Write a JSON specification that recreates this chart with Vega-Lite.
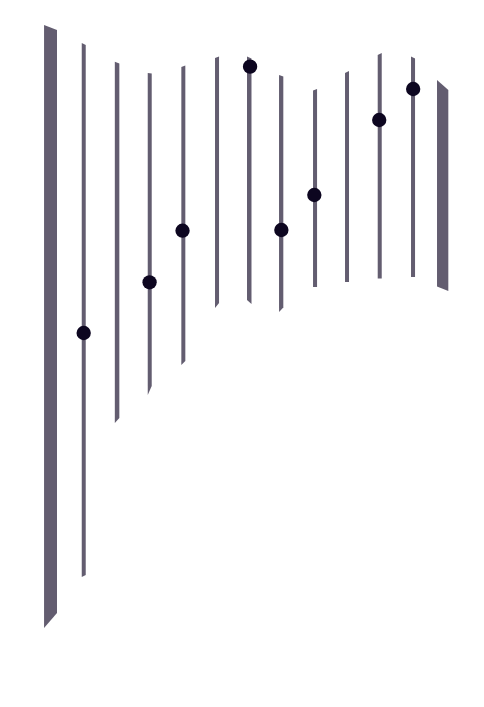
{
  "$schema": "https://vega.github.io/schema/vega-lite/v6.json",
  "description": "Ranged strips with dot markers.",
  "width": 484,
  "height": 707,
  "autosize": {"type": "fit", "contains": "padding"},
  "padding": 0,
  "background": "white",
  "datasets": {
    "strips": [
      {"strip": 0, "pos": -0.203, "top": 96.46, "bottom": 11.17},
      {"strip": 0, "pos": 0.19, "top": 95.76, "bottom": 13.3},
      {"strip": 1, "pos": 0.941, "top": 93.92, "bottom": 18.39},
      {"strip": 1, "pos": 1.062, "top": 93.63, "bottom": 18.67},
      {"strip": 2, "pos": 1.945, "top": 91.27, "bottom": 40.17},
      {"strip": 2, "pos": 2.082, "top": 91.02, "bottom": 40.88},
      {"strip": 3, "pos": 2.944, "top": 89.67, "bottom": 44.13},
      {"strip": 3, "pos": 3.065, "top": 89.6, "bottom": 45.4},
      {"strip": 4, "pos": 3.964, "top": 90.52, "bottom": 48.37},
      {"strip": 4, "pos": 4.085, "top": 90.74, "bottom": 48.94},
      {"strip": 5, "pos": 4.986, "top": 91.8, "bottom": 56.44},
      {"strip": 5, "pos": 5.108, "top": 92.01, "bottom": 57.14},
      {"strip": 6, "pos": 5.957, "top": 92.01, "bottom": 57.57},
      {"strip": 6, "pos": 6.093, "top": 91.73, "bottom": 57.0},
      {"strip": 7, "pos": 6.929, "top": 89.39, "bottom": 55.87},
      {"strip": 7, "pos": 7.059, "top": 89.18, "bottom": 56.51},
      {"strip": 8, "pos": 7.961, "top": 87.2, "bottom": 59.41},
      {"strip": 8, "pos": 8.083, "top": 87.41, "bottom": 59.41},
      {"strip": 9, "pos": 8.932, "top": 89.67, "bottom": 60.11},
      {"strip": 9, "pos": 9.053, "top": 89.96, "bottom": 60.11},
      {"strip": 10, "pos": 9.924, "top": 92.22, "bottom": 60.61},
      {"strip": 10, "pos": 10.046, "top": 92.5, "bottom": 60.61},
      {"strip": 11, "pos": 10.935, "top": 92.01, "bottom": 60.82},
      {"strip": 11, "pos": 11.057, "top": 91.73, "bottom": 60.82},
      {"strip": 12, "pos": 11.724, "top": 88.68, "bottom": 59.48},
      {"strip": 12, "pos": 12.067, "top": 87.27, "bottom": 58.84}
    ],
    "dots": [
      {"pos": 1, "value": 52.9},
      {"pos": 3, "value": 60.07},
      {"pos": 4, "value": 67.37},
      {"pos": 6.05, "value": 90.57},
      {"pos": 7, "value": 67.47},
      {"pos": 8, "value": 72.42},
      {"pos": 9.97, "value": 83.03},
      {"pos": 11, "value": 87.41}
    ]
  },
  "layer": [
    {
      "data": {"name": "strips"},
      "mark": {"type": "area", "color": "#635d70", "opacity": 1},
      "encoding": {
        "detail": {"field": "strip", "type": "nominal"},
        "x": {
          "field": "pos",
          "type": "quantitative",
          "axis": null,
          "scale": {"domain": [-1.54, 13.15], "nice": false, "zero": false}
        },
        "y": {
          "field": "top",
          "type": "quantitative",
          "axis": null,
          "scale": {"domain": [0, 100], "nice": false, "zero": false}
        },
        "y2": {"field": "bottom"}
      }
    },
    {
      "data": {"name": "dots"},
      "mark": {"type": "circle", "size": 205, "color": "#0d0620", "opacity": 1},
      "encoding": {
        "x": {"field": "pos", "type": "quantitative"},
        "y": {"field": "value", "type": "quantitative"}
      }
    }
  ],
  "config": {"view": {"stroke": null}}
}
